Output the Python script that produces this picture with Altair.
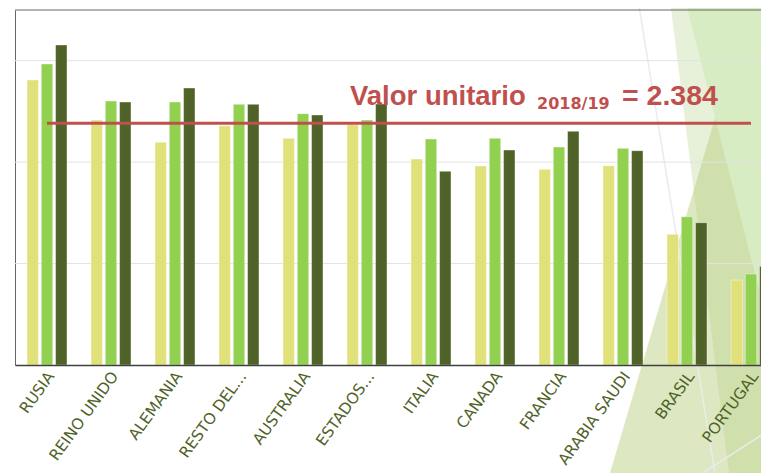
import altair as alt
import pandas as pd

# ---- data ----
categories = ["RUSIA", "REINO UNIDO", "ALEMANIA", "RESTO DEL...", "AUSTRALIA",
              "ESTADOS...", "ITALIA", "CANADA", "FRANCIA", "ARABIA SAUDI",
              "BRASIL", "PORTUGAL"]
series = ["2016/17", "2017/18", "2018/19"]
values_2016_17 = [2810, 2415, 2196, 2359, 2235, 2369, 2031, 1962, 1929, 1965, 1289, 838]
values_2017_18 = [2968, 2603, 2593, 2570, 2478, 2415, 2228, 2235, 2149, 2136, 1462, 897]
values_2018_19 = [3155, 2593, 2731, 2570, 2465, 2573, 1910, 2120, 2304, 2113, 1403, 973]
reference_value = 2384
grid_values = [1000, 2000, 3000]
y_max = 3500

# decorative slide background (theme facets), in page pixels
deco_shapes = ["pale", "rising", "light"]
deco_x = [[670, 729, 783], [610, 750, 783], [685, 783]]
deco_top = [[0, 0, 0], [473, 0, 0], [0, 0]]
deco_bottom = [[0, 473, 473], [473, 473, 473], [0, 383]]
deco_lines = ["diag1", "diag2"]
deco_line_x = [[638, 715], [703, 783]]
deco_line_y = [[0, 473], [473, 421]]

# ---- tables ----
rows = []
for s, vals in zip(series, [values_2016_17, values_2017_18, values_2018_19]):
    for c, v in zip(categories, vals):
        rows.append({"cat": c, "series": s, "v": v})
bars_df = pd.DataFrame(rows)
line_df = pd.DataFrame({"cat": categories, "v": [reference_value] * len(categories)})
grid_df = pd.DataFrame({"v": grid_values})
top_df = pd.DataFrame({"v": [y_max]})
ann_df = pd.DataFrame({"cat": ["ESTADOS..."], "v": [reference_value]})
deco_rows = []
for name, xs, ts, bs in zip(deco_shapes, deco_x, deco_top, deco_bottom):
    for x, t, b in zip(xs, ts, bs):
        deco_rows.append({"shape": name, "x": x, "y": t, "y2": b})
deco_df = pd.DataFrame(deco_rows)
dl_rows = []
for name, xs, ys in zip(deco_lines, deco_line_x, deco_line_y):
    for i, (x, y) in enumerate(zip(xs, ys)):
        dl_rows.append({"line": name, "x": x, "y": y, "i": i})
deco_line_df = pd.DataFrame(dl_rows)

# visible plot part; the category scale runs on past the right edge as in the reference
W, H = 746, 355
RED = "#c0504d"

xscale = alt.Scale(domain=categories, range=[0, 768], paddingInner=0.375, paddingOuter=0.1875)
yscale = alt.Scale(domain=[0, y_max], nice=False, zero=False)

x_axis = alt.Axis(title=None, orient="bottom", labelAngle=-54, labelColor="#4f6228",
                  labelFont="DejaVu Sans", labelFontSize=15.5, ticks=False,
                  domainColor="#404040", domainWidth=1.5, labelPadding=8, labelOffset=4,
                  grid=False, labelOverlap=False, zindex=1)
y_axis = alt.Axis(title=None, orient="left", labels=False, ticks=False, grid=False,
                  domainColor="#666666", domainWidth=1)

# ---- decorative layer ----
dx_scale = alt.Scale(domain=[15, 15 + W], nice=False, zero=False)
dy_scale = alt.Scale(domain=[365, 10], nice=False, zero=False)
deco_style = {"pale": ("#e7f0d8", 1.0), "rising": ("#b4cd78", 0.45), "light": ("#d8ecc3", 1.0)}
deco_layers = []
for name in deco_shapes:
    col, op = deco_style[name]
    deco_layers.append(
        alt.Chart(deco_df).transform_filter(alt.datum.shape == name)
        .mark_area(color=col, opacity=op, clip=False)
        .encode(x=alt.X("x:Q", scale=dx_scale, axis=None),
                y=alt.Y("y:Q", scale=dy_scale, axis=None),
                y2="y2:Q")
    )
deco_layers.append(
    alt.Chart(deco_line_df).mark_line(color="#ebebeb", strokeWidth=1.5, clip=False).encode(
        x=alt.X("x:Q", scale=dx_scale, axis=None),
        y=alt.Y("y:Q", scale=dy_scale, axis=None),
        detail="line:N", order="i:Q")
)
deco = alt.layer(*deco_layers)

# ---- main layer ----
grid = alt.Chart(grid_df).mark_rule(color="#e3e3e3", strokeWidth=1).encode(
    y=alt.Y("v:Q", scale=yscale, axis=y_axis))
top = alt.Chart(top_df).mark_rule(color="#666666", strokeWidth=1).encode(
    y=alt.Y("v:Q", scale=yscale))
bars = alt.Chart(bars_df).mark_bar(stroke="#ffffff", strokeWidth=0.8, strokeOpacity=0.5).encode(
    x=alt.X("cat:N", scale=xscale, axis=x_axis, sort=categories),
    xOffset=alt.XOffset("series:N", scale=alt.Scale(domain=series, paddingInner=0.2)),
    y=alt.Y("v:Q", scale=yscale, axis=y_axis),
    color=alt.Color("series:N", scale=alt.Scale(domain=series, range=["#e1e17b", "#92d050", "#4f6228"]), legend=None),
)
ref_line = alt.Chart(line_df).mark_line(color=RED, strokeWidth=3).encode(
    x=alt.X("cat:N", scale=xscale, sort=categories),
    y=alt.Y("v:Q", scale=yscale))

enc = dict(x=alt.X("cat:N", scale=xscale), y=alt.Y("v:Q", scale=yscale))
t1 = alt.Chart(ann_df).mark_text(text="Valor unitario", align="left", baseline="alphabetic",
                                  font="Liberation Sans", fontWeight="bold", fontSize=27.5,
                                  color=RED, dx=-17, dy=-18.5).encode(**enc)
t2 = alt.Chart(ann_df).mark_text(text="2018/19", align="left", baseline="alphabetic",
                                  font="DejaVu Sans", fontWeight="bold", fontSize=16,
                                  color=RED, dx=170, dy=-14).encode(**enc)
t3 = alt.Chart(ann_df).mark_text(text="= 2.384", align="left", baseline="alphabetic",
                                  font="Liberation Sans", fontWeight="bold", fontSize=28.5,
                                  color=RED, dx=255, dy=-18.5).encode(**enc)

main = alt.layer(grid, top, bars, ref_line, t1, t2, t3)

chart = alt.layer(deco, main).resolve_scale(x="independent", y="independent").properties(
    width=W, height=H,
    padding={"left": 7, "top": 2, "right": 0, "bottom": 108},
    autosize=alt.AutoSizeParams(type="none"),
    background="white",
).configure_view(stroke=None)

chart.save("out.html", embed_options={"renderer": "svg", "actions": False})
